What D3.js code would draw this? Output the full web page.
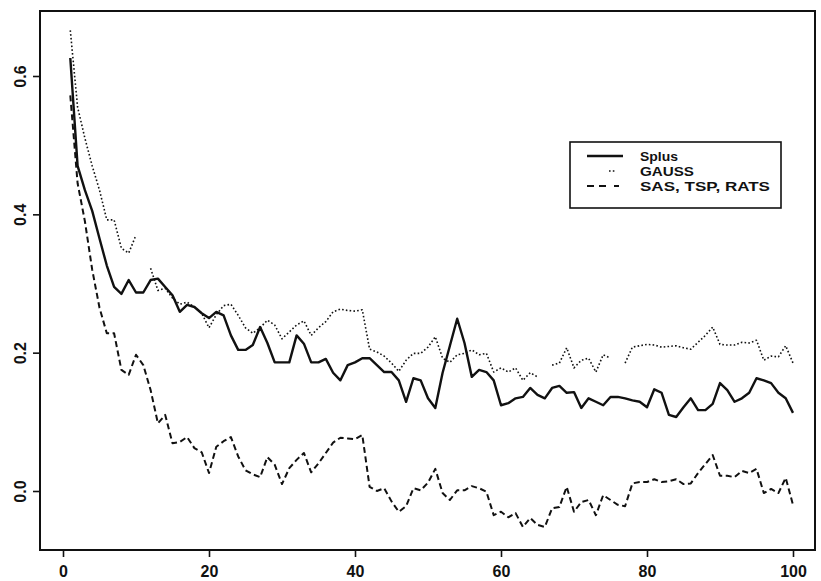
<!DOCTYPE html>
<html>
<head>
<meta charset="utf-8">
<script src="https://cdn.jsdelivr.net/npm/d3@7"></script>
<style>
  body { margin: 0; background: #fff; }
  svg text { font-family: "Liberation Sans", Arial, sans-serif; font-weight: bold; fill: #111; }
</style>
</head>
<body>
<svg id="chart" width="821" height="581"></svg>
<script>
// Values, one per step 1..100
const steps = d3.range(1, 101);

const splus = [0.626,0.47,0.435,0.405,0.365,0.326,0.295,0.285,0.305,0.287,
  0.287,0.305,0.307,0.295,0.283,0.259,0.269,0.266,0.257,0.25,
  0.259,0.254,0.225,0.204,0.204,0.211,0.237,0.214,0.186,0.186,
  0.186,0.225,0.213,0.186,0.186,0.191,0.171,0.16,0.182,0.186,
  0.192,0.192,0.182,0.172,0.172,0.16,0.129,0.163,0.16,0.134,
  0.12,0.171,0.21,0.249,0.214,0.165,0.175,0.172,0.16,0.124,
  0.127,0.134,0.136,0.149,0.139,0.134,0.149,0.152,0.142,0.143,
  0.12,0.134,0.129,0.124,0.136,0.136,0.134,0.131,0.129,0.121,
  0.147,0.142,0.11,0.107,0.121,0.134,0.117,0.117,0.126,0.156,
  0.146,0.129,0.134,0.142,0.163,0.16,0.156,0.142,0.134,0.113];

// null = missing value (gap in the line)
const gauss = [0.666,0.555,0.51,0.47,0.435,0.392,0.392,0.351,0.344,0.37,
  null,0.322,0.29,0.293,0.279,0.27,0.273,0.266,0.257,0.236,
  0.255,0.268,0.27,0.254,0.236,0.228,0.236,0.247,0.24,0.22,
  0.23,0.24,0.246,0.225,0.236,0.245,0.259,0.263,0.261,0.26,
  0.262,0.205,0.201,0.195,0.185,0.173,0.189,0.199,0.199,0.208,
  0.223,0.192,0.186,0.197,0.199,0.204,0.197,0.199,0.172,0.178,
  0.172,0.178,0.16,0.171,0.165,null,0.182,0.185,0.207,0.178,
  0.189,0.192,0.172,0.197,0.192,null,0.185,0.208,0.21,0.212,
  0.211,0.208,0.209,0.21,0.207,0.205,0.215,0.225,0.237,0.212,
  0.211,0.211,0.215,0.214,0.218,0.189,0.195,0.194,0.21,0.185];

const sasTspRats = [0.572,0.445,0.39,0.32,0.265,0.228,0.228,0.175,0.168,0.197,
  0.182,0.146,0.098,0.11,0.069,0.071,0.078,0.062,0.056,0.026,
  0.064,0.072,0.078,0.05,0.03,0.024,0.02,0.049,0.038,0.01,
  0.033,0.045,0.055,0.027,0.04,0.055,0.07,0.077,0.076,0.075,
  0.081,0.006,0.0,0.004,-0.015,-0.03,-0.022,0.004,0.001,0.012,
  0.032,-0.003,-0.013,0.001,0.001,0.007,0.004,-0.001,-0.035,-0.03,
  -0.038,-0.032,-0.052,-0.039,-0.049,-0.052,-0.025,-0.023,0.006,-0.03,
  -0.016,-0.013,-0.035,-0.006,-0.013,-0.02,-0.022,0.011,0.013,0.013,
  0.017,0.013,0.014,0.017,0.01,0.011,0.026,0.039,0.052,0.022,
  0.022,0.02,0.029,0.026,0.032,-0.003,0.003,-0.003,0.019,-0.02];

const xTicks = [0, 20, 40, 60, 80, 100];
const yTicks = [0.0, 0.2, 0.4, 0.6];
const seriesNames = ['Splus', 'GAUSS', 'SAS, TSP, RATS'];

const svg = d3.select('#chart');

// plot frame
const box = { left: 40, top: 11, right: 815, bottom: 550 };

const x = d3.scaleLinear().domain([0, 100]).range([63, 793]);
const y = d3.scaleLinear().domain([0, 0.6]).range([491, 76]);

// line styles per series
const styles = [
  { width: 2.4, dash: null },
  { width: 1.6, dash: '1.6,2.2' },
  { width: 2.0, dash: '6,3.5' }
];
const seriesData = [splus, gauss, sasTspRats];

const line = d3.line()
  .defined(d => d[1] !== null)
  .x(d => x(d[0]))
  .y(d => y(d[1]));

svg.append('g')
  .selectAll('path')
  .data(seriesData)
  .join('path')
    .attr('d', vals => line(steps.map((s, i) => [s, vals[i]])))
    .attr('fill', 'none')
    .attr('stroke', '#111')
    .attr('stroke-width', (d, i) => styles[i].width)
    .attr('stroke-dasharray', (d, i) => styles[i].dash)
    .attr('stroke-linejoin', 'round');

// box
svg.append('rect')
  .attr('x', box.left)
  .attr('y', box.top)
  .attr('width', box.right - box.left)
  .attr('height', box.bottom - box.top)
  .attr('fill', 'none')
  .attr('stroke', '#111')
  .attr('stroke-width', 2);

// x axis
const xAxis = svg.append('g')
  .attr('transform', `translate(0,${box.bottom})`)
  .call(d3.axisBottom(x).tickValues(xTicks).tickSize(7).tickPadding(9).tickFormat(d3.format('d')));
xAxis.select('.domain').remove();
xAxis.selectAll('line').attr('stroke', '#111').attr('stroke-width', 1.6);
xAxis.selectAll('text').attr('font-size', 16).attr('fill', '#111');

// y axis, labels turned parallel to the axis
const yAxis = svg.append('g')
  .attr('transform', `translate(${box.left},0)`)
  .call(d3.axisLeft(y).tickValues(yTicks).tickSize(7).tickFormat(d3.format('.1f')));
yAxis.select('.domain').remove();
yAxis.selectAll('line').attr('stroke', '#111').attr('stroke-width', 1.6);
yAxis.selectAll('text')
  .attr('font-size', 16)
  .attr('fill', '#111')
  .attr('x', null)
  .attr('text-anchor', 'middle')
  .attr('transform', 'translate(-20,0) rotate(-90)')
  .attr('dy', '0.35em');

// legend
const legend = svg.append('g').attr('transform', 'translate(570,142)');
legend.append('rect')
  .attr('width', 211).attr('height', 66)
  .attr('fill', '#fff')
  .attr('stroke', '#111').attr('stroke-width', 1.6);

const rowY = [14, 29, 44];
const samples = [[17, 53], [39, 45], [17, 53]];
const legendRows = legend.selectAll('g.row')
  .data(seriesNames)
  .join('g')
    .attr('class', 'row')
    .attr('transform', (d, i) => `translate(0,${rowY[i]})`);

legendRows.append('line')
  .attr('x1', (d, i) => samples[i][0])
  .attr('x2', (d, i) => samples[i][1])
  .attr('stroke', '#111')
  .attr('stroke-width', (d, i) => styles[i].width)
  .attr('stroke-dasharray', (d, i) => i === 2 ? '7,5,7,8,5' : styles[i].dash);

legendRows.append('text')
  .attr('x', 70)
  .attr('dy', '0.36em')
  .attr('font-size', 13)
  .attr('textLength', (d, i) => [38, 54, 130][i])
  .attr('lengthAdjust', 'spacingAndGlyphs')
  .text(d => d);
</script>
</body>
</html>
